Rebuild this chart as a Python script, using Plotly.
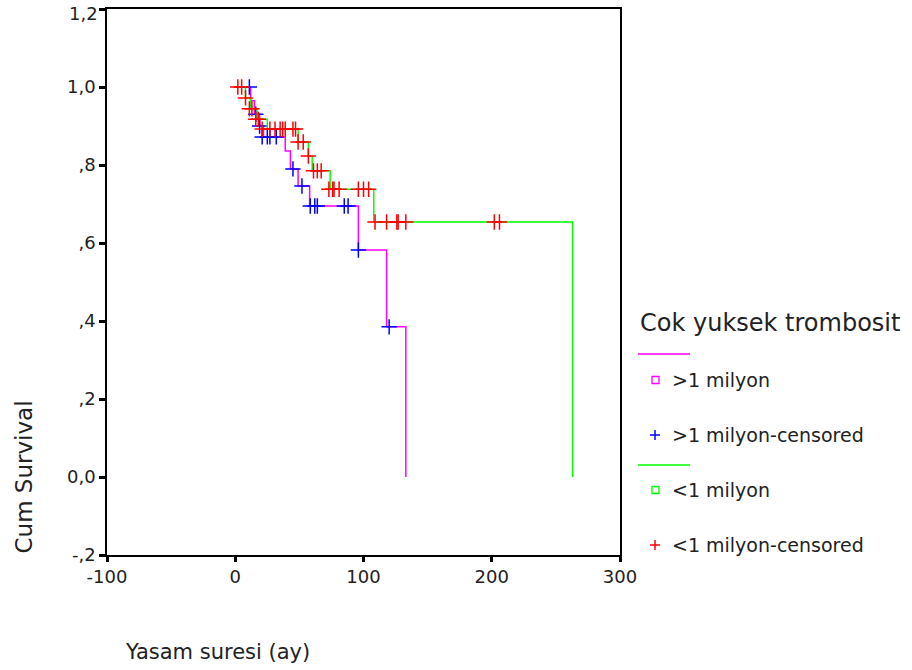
import plotly.graph_objects as go

# ---- data ----
# >1 milyon (step curve)
hi_times = [0, 12, 15, 19, 22, 39, 43, 49, 58, 96, 118, 133]
hi_surv = [1.0, 0.965, 0.93, 0.90, 0.872, 0.836, 0.79, 0.746, 0.695, 0.582, 0.385, 0.0]
# >1 milyon censored
hi_cens_t = [11, 16, 19, 21, 25, 27, 32, 45, 52, 58.5, 62, 64, 85, 88, 96, 120]
hi_cens_s = [1.0, 0.93, 0.90, 0.872, 0.872, 0.872, 0.872, 0.79, 0.746, 0.695, 0.695, 0.695, 0.695, 0.695, 0.582, 0.385]
# <1 milyon (step curve)
lo_times = [0, 8, 12, 17, 25, 49, 57, 60, 74, 108, 263]
lo_surv = [1.0, 0.972, 0.944, 0.917, 0.892, 0.859, 0.823, 0.785, 0.738, 0.654, 0.0]
# <1 milyon censored
lo_cens_t = [2, 5, 8, 11, 13, 16, 18, 21, 27, 31, 35, 37, 39, 45, 47, 49, 53, 57,
             61, 64, 67, 73, 76, 77, 81, 96, 100, 104, 109, 118, 126, 127, 133, 202, 206]
lo_cens_s = [1.0, 1.0, 0.972, 0.944, 0.944, 0.917, 0.917, 0.892, 0.892, 0.892, 0.892, 0.892, 0.892, 0.892, 0.892,
             0.859, 0.859, 0.823, 0.785, 0.785, 0.785, 0.738, 0.738, 0.738, 0.738, 0.738, 0.738, 0.738,
             0.654, 0.654, 0.654, 0.654, 0.654, 0.654, 0.654]

y_tickvals = [-0.2, 0.0, 0.2, 0.4, 0.6, 0.8, 1.0, 1.2]
y_ticktext = ["-,2", "0,0", ",2", ",4", ",6", ",8", "1,0", "1,2"]
x_tickvals = [-100, 0, 100, 200, 300]
x_ticktext = ["-100", "0", "100", "200", "300"]

legend_title = "Cok yuksek trombosit"
legend_labels = [">1 milyon", ">1 milyon-censored", "<1 milyon", "<1 milyon-censored"]

MAG, BLUE, GREEN, RED = "#FF00FF", "#0000FF", "#00FF00", "#FF0000"
FONT = "DejaVu Sans, Liberation Sans, Arial, sans-serif"

# plot area in pixels
L, R, T, B = 107, 620, 9, 555
W, H = 912, 670


def px(x):
    return (x - L) / (R - L)


def py(y):
    return (B - y) / (B - T)


fig = go.Figure()
fig.add_trace(go.Scatter(x=hi_times, y=hi_surv, mode="lines", line=dict(color=MAG, width=1.5, shape="hv"),
                         showlegend=False, cliponaxis=False))
fig.add_trace(go.Scatter(x=hi_cens_t, y=hi_cens_s, mode="markers",
                         marker=dict(symbol="cross-thin", size=11, line=dict(color=BLUE, width=1.5)),
                         showlegend=False))
fig.add_trace(go.Scatter(x=lo_times, y=lo_surv, mode="lines", line=dict(color=GREEN, width=1.5, shape="hv"),
                         showlegend=False, cliponaxis=False))
fig.add_trace(go.Scatter(x=lo_cens_t, y=lo_cens_s, mode="markers",
                         marker=dict(symbol="cross-thin", size=11, line=dict(color=RED, width=1.5)),
                         showlegend=False))

shapes = []
annotations = []

# top y tick label drawn as an annotation so it is not cut at the page edge
axis_ticktext = list(y_ticktext)
top_label = axis_ticktext[-1]
axis_ticktext[-1] = ""
annotations.append(dict(x=px(99), y=py(14), xref="paper", yref="paper", text=top_label, showarrow=False,
                        xanchor="right", yanchor="middle", borderpad=0,
                        font=dict(family=FONT, size=18, color="#222")))

# axis titles
annotations.append(dict(x=px(123), y=py(652), xref="paper", yref="paper", text="Yasam suresi (ay)",
                        showarrow=False, xanchor="left", yanchor="middle",
                        font=dict(family=FONT, size=21, color="#222")))
annotations.append(dict(x=px(23), y=py(556), xref="paper", yref="paper", text="Cum Survival",
                        showarrow=False, textangle=-90, xanchor="center", yanchor="bottom",
                        font=dict(family=FONT, size=23, color="#222")))

# custom legend
annotations.append(dict(x=px(638), y=py(323), xref="paper", yref="paper", text=legend_title,
                        showarrow=False, xanchor="left", yanchor="middle",
                        font=dict(family=FONT, size=24, color="#222")))
rows_y = [380, 435, 490, 545]
line_y = [354, 465]
for ly, c in zip(line_y, [MAG, GREEN]):
    shapes.append(dict(type="line", xref="paper", yref="paper", x0=px(638), x1=px(690), y0=py(ly), y1=py(ly),
                       line=dict(color=c, width=1.5)))
for i, (ry, lab) in enumerate(zip(rows_y, legend_labels)):
    annotations.append(dict(x=px(670), y=py(ry), xref="paper", yref="paper", text=lab, showarrow=False,
                            xanchor="left", yanchor="middle", font=dict(family=FONT, size=19, color="#222")))
    c = [MAG, BLUE, GREEN, RED][i]
    if i % 2 == 0:
        shapes.append(dict(type="rect", xref="paper", yref="paper", x0=px(652), x1=px(659), y0=py(ry + 3.5),
                           y1=py(ry - 3.5), line=dict(color=c, width=1.3)))
    else:
        shapes.append(dict(type="line", xref="paper", yref="paper", x0=px(650), x1=px(660), y0=py(ry), y1=py(ry),
                           line=dict(color=c, width=1.5)))
        shapes.append(dict(type="line", xref="paper", yref="paper", x0=px(655), x1=px(655), y0=py(ry - 5),
                           y1=py(ry + 5), line=dict(color=c, width=1.5)))

fig.update_layout(
    width=W, height=H,
    margin=dict(l=L, r=W - R, t=T, b=H - B, pad=0, autoexpand=False),
    paper_bgcolor="white", plot_bgcolor="white",
    font=dict(family=FONT, size=18, color="#222"),
    shapes=shapes, annotations=annotations,
    showlegend=False,
)
fig.update_xaxes(range=[-100, 300], tickvals=x_tickvals, ticktext=x_ticktext, ticks="outside", ticklen=5,
                 tickwidth=3, tickcolor="#000", showline=True, linecolor="#000", linewidth=1.5, mirror=True,
                 showgrid=False, zeroline=False, automargin=False, ticklabeloverflow="allow",
                 tickfont=dict(family=FONT, size=18, color="#222"))
fig.update_yaxes(range=[-0.2, 1.2], tickvals=y_tickvals, ticktext=axis_ticktext, ticks="outside", ticklen=6,
                 tickwidth=3, tickcolor="#000", showline=True, linecolor="#000", linewidth=1.5, mirror=True,
                 showgrid=False, zeroline=False, automargin=False, ticklabeloverflow="allow",
                 tickfont=dict(family=FONT, size=18, color="#222"))

fig.write_html("out.html")
